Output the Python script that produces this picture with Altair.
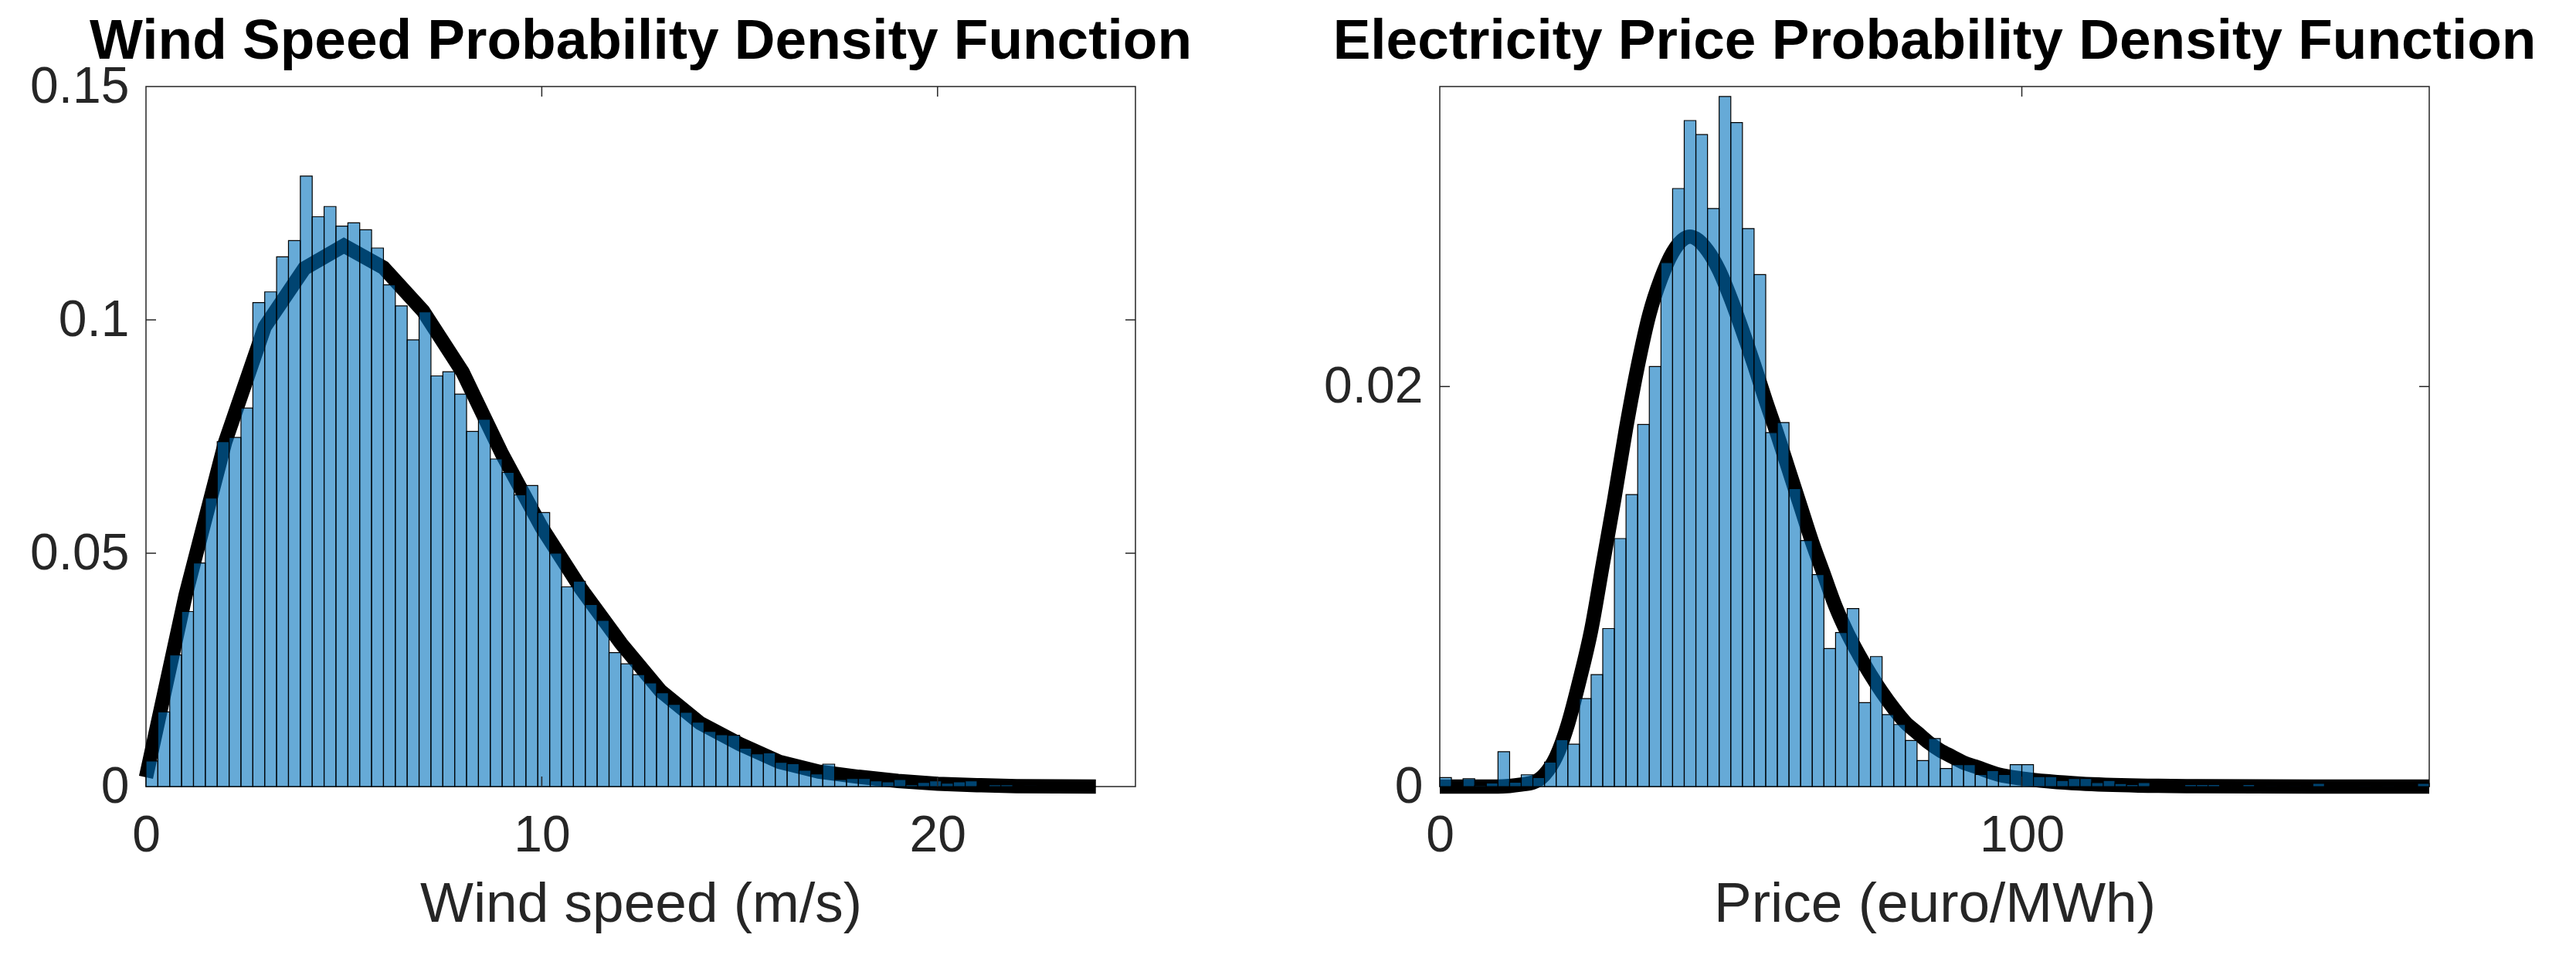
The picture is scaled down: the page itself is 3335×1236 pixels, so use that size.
import altair as alt
import numpy as np
import pandas as pd

# ---------------- data ----------------
wind_bin_width = 0.3
wind_density = [
    0.0055, 0.0160, 0.0282, 0.0375, 0.0479, 0.0618, 0.0739, 0.0748, 0.0811, 0.1037,
    0.1060, 0.1135, 0.1170, 0.1308, 0.1221, 0.1243, 0.1201, 0.1208, 0.1193, 0.1154,
    0.1075, 0.1030, 0.0957, 0.1017, 0.0880, 0.0889, 0.0841, 0.0761, 0.0787, 0.0702,
    0.0673, 0.0625, 0.0645, 0.0587, 0.0500, 0.0428, 0.0440, 0.0390, 0.0356, 0.0287,
    0.0263, 0.0240, 0.0222, 0.0201, 0.0176, 0.0159, 0.0138, 0.0118, 0.0111, 0.0110,
    0.0082, 0.0070, 0.0072, 0.0052, 0.0049, 0.0035, 0.0027, 0.0048, 0.0015, 0.0017,
    0.0017, 0.0012, 0.0010, 0.0015, 0.0004, 0.0009, 0.0012, 0.0007, 0.0010, 0.0012,
    0.0001, 0.0004, 0.0004, 0.0000, 0.0002, 0.0001, 0.0001, 0.0000, 0.0001, 0.0000,
]
wind_curve_x = [0, 1, 2, 3, 4, 5, 6, 7, 8, 9, 10, 11, 12, 13, 14, 15, 16, 17, 18, 19, 20, 21, 22, 23, 24]
wind_curve_y = [0.0020, 0.0410, 0.0738, 0.0985, 0.1110, 0.1159, 0.1112, 0.1019, 0.0888, 0.0712,
                0.0555, 0.0423, 0.0307, 0.0205, 0.0136, 0.0091, 0.0053, 0.0032, 0.0021, 0.0012,
                0.0006, 0.0003, 0.0001, 0.00005, 0.00002]

price_bin_width = 2.0
price_density = [
    0.00045, 0.00003, 0.00039, 0.00005, 0.00018, 0.00174, 0.00022, 0.00059, 0.00045, 0.00122,
    0.00234, 0.00212, 0.0044, 0.0056, 0.0079, 0.0124, 0.0146, 0.0181, 0.0210, 0.0262,
    0.0299, 0.0333, 0.0326, 0.0289, 0.0345, 0.0332, 0.0279, 0.0256, 0.0177, 0.0182,
    0.0149, 0.0123, 0.0106, 0.0069, 0.0077, 0.0089, 0.0042, 0.0065, 0.0036, 0.0031,
    0.0023, 0.0013, 0.0024, 0.0009, 0.0011, 0.0011, 0.0006, 0.0008, 0.0006, 0.0011,
    0.0011, 0.0005, 0.0005, 0.0003, 0.0004, 0.0004, 0.0002, 0.0003, 0.00015, 0.0001,
    0.0002, 0.00002, 0.00003, 0.0, 0.0001, 0.0001, 0.0001, 0.00003, 0.00003, 0.0001,
    0.00003, 0.00001, 0.00003, 0.00001, 0.0, 0.00016, 0.0, 0.0, 0.0, 0.00001,
    0.0, 0.00001, 0.0, 0.0, 0.00016,
]
price_curve_x = [0, 5, 10, 12, 14, 16, 18, 20, 22, 24, 26, 28, 30, 32, 34, 36, 38, 40, 42, 43,
                 44, 46, 48, 50, 52, 54, 56, 58, 60, 62, 64, 66, 68, 70, 72, 74, 76, 78, 80, 82,
                 84, 86, 88, 90, 92, 96, 100, 105, 110, 120, 130, 150, 170]
price_curve_y = [0.0, 0.0, 0.0, 0.00003, 0.0001, 0.0002, 0.0006, 0.0015, 0.0031, 0.0053,
                 0.0078, 0.0111, 0.0144, 0.0179, 0.0210, 0.0236, 0.0254, 0.0267, 0.0274, 0.0275,
                 0.0274, 0.0268, 0.0258, 0.0244, 0.0228, 0.0211, 0.0193, 0.0176, 0.0158, 0.0140,
                 0.0122, 0.0106, 0.0090, 0.0077, 0.0066, 0.0056, 0.0047, 0.0039, 0.0032, 0.0027,
                 0.0022, 0.0018, 0.0015, 0.0012, 0.0010, 0.0006, 0.0004, 0.00025, 0.00015, 0.00005,
                 0.00002, 0.0, 0.0]

wind_xticks = [0, 10, 20]
wind_yticks = [0, 0.05, 0.1, 0.15]
price_xticks = [0, 100]
price_yticks = [0, 0.02]

# ---------------- styling ----------------
W, H = 1281, 906
TICK = 13
INK = "#262626"
FONT = "Liberation Sans"
BAR_COLOR = "#0072BD"
LABEL_EXPR = "'' + datum.value"


def panel(density, bw, cx, cy, xdom, ydom, xticks, yticks, title, xtitle, interp):
    n = len(density)
    starts = np.arange(n) * bw
    bars = pd.DataFrame({"x0": starts, "x1": starts + bw, "h": density, "base": 0.0})
    curve = pd.DataFrame({"x": cx, "y": cy})
    xs = alt.Scale(domain=xdom, nice=False, zero=False)
    ys = alt.Scale(domain=ydom, nice=False, zero=False)
    xax = alt.Axis(values=xticks, labelExpr=LABEL_EXPR, labelFlush=False, labelOverlap=False,
                   ticks=False, domain=False, grid=False, labelPadding=31,
                   titlePadding=20, title=xtitle)
    yax = alt.Axis(values=yticks, labelExpr=LABEL_EXPR, labelFlush=False, labelOverlap=False,
                   ticks=False, domain=False, grid=False, labelPadding=22, title="")

    line = alt.Chart(curve).mark_line(
        color="black", strokeWidth=18.5, interpolate=interp, strokeJoin="miter", clip=False
    ).encode(
        x=alt.X("x:Q", scale=xs, axis=xax, title=xtitle),
        y=alt.Y("y:Q", scale=ys, axis=yax, title=""),
    )

    hist = alt.Chart(bars).mark_bar(
        color=BAR_COLOR, fillOpacity=0.6, stroke="black", strokeWidth=1.2, strokeOpacity=1
    ).encode(
        x=alt.X("x0:Q", scale=xs, axis=xax, title=xtitle),
        x2="x1:Q",
        y=alt.Y("h:Q", scale=ys, axis=yax, title=""),
        y2="base:Q",
    )

    xt = pd.DataFrame({"t": [v for v in xticks if xdom[0] < v < xdom[1]]})
    yt = pd.DataFrame({"t": [v for v in yticks if ydom[0] < v < ydom[1]]})
    tick_style = dict(color=INK, strokeWidth=1.5)
    xt_bottom = alt.Chart(xt).mark_rule(**tick_style).encode(
        x=alt.X("t:Q", scale=xs, axis=xax, title=xtitle), y=alt.value(H), y2=alt.value(H - TICK))
    xt_top = alt.Chart(xt).mark_rule(**tick_style).encode(
        x=alt.X("t:Q", scale=xs, axis=xax, title=xtitle), y=alt.value(0), y2=alt.value(TICK))
    yt_left = alt.Chart(yt).mark_rule(**tick_style).encode(
        y=alt.Y("t:Q", scale=ys, axis=yax, title=""), x=alt.value(0), x2=alt.value(TICK))
    yt_right = alt.Chart(yt).mark_rule(**tick_style).encode(
        y=alt.Y("t:Q", scale=ys, axis=yax, title=""), x=alt.value(W - TICK), x2=alt.value(W))

    ttl = alt.Chart(pd.DataFrame({"label": [title]})).mark_text(
        font=FONT, fontSize=73, fontWeight="bold", color="black",
        align="center", baseline="alphabetic",
    ).encode(text="label:N", x=alt.value(W / 2), y=alt.value(-36))

    return alt.layer(line, hist, xt_bottom, xt_top, yt_left, yt_right, ttl).properties(
        width=W, height=H,
    )


left = panel(wind_density, wind_bin_width, wind_curve_x, wind_curve_y, [0, 25], [0, 0.15],
             wind_xticks, wind_yticks, "Wind Speed Probability Density Function",
             "Wind speed (m/s)", "linear")
right = panel(price_density, price_bin_width, price_curve_x, price_curve_y, [0, 170], [0, 0.035],
              price_xticks, price_yticks, "Electricity Price Probability Density Function",
              "Price (euro/MWh)", "monotone")

chart = alt.hconcat(left, right, spacing=394, bounds="flush").properties(
    padding={"left": 29, "top": 9, "right": 20, "bottom": 10},
    background="white",
).configure_view(
    stroke=INK, strokeWidth=1.5
).configure_axis(
    labelFont=FONT, labelFontSize=66, labelColor=INK,
    titleFont=FONT, titleFontSize=73, titleColor=INK, titleFontWeight="normal",
)

chart.save("out.html", embed_options={"renderer": "svg", "actions": False})
